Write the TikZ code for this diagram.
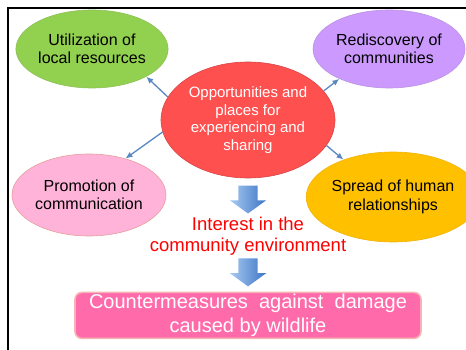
\documentclass[tikz,border=0pt]{standalone}
\usepackage{fontspec}
\setmainfont{Liberation Sans}
\usetikzlibrary{arrows.meta,positioning,shapes.geometric,shapes.arrows}

\definecolor{leafgreen}{HTML}{92D050}
\definecolor{lilac}{HTML}{CC99FF}
\definecolor{rosepink}{HTML}{FFB3D9}
\definecolor{amber}{HTML}{FFC000}
\definecolor{coral}{HTML}{FF5050}
\definecolor{linkblue}{HTML}{5B87C2}
\definecolor{boxpink}{HTML}{FF6AAA}
\definecolor{glow}{HTML}{F6B4B4}
\definecolor{skytop}{HTML}{A9CBF2}
\definecolor{skybottom}{HTML}{3C74C6}

\begin{document}
\begin{tikzpicture}[x=1pt, y=-1pt, node distance=5pt, every node/.style={align=center},
  bubble/.style={ellipse, inner sep=0pt, line width=0.6pt, font=\fontsize{16}{18.5}\selectfont},
  arr/.style={-{Latex[length=7pt,width=6pt]}, line width=1.3pt, draw=linkblue},
  downarrow/.style={single arrow, rotate=-90, inner xsep=0pt, inner ysep=9.5pt, minimum height=28pt,
    minimum width=36pt, single arrow head extend=8.5pt, single arrow tip angle=108,
    left color=skytop, right color=skybottom, draw=none}]
\useasboundingbox (0,0) rectangle (466,350);
% frame of the slide
\draw[line width=1.4pt] (8,350) |- (466,8);

% hub and the four outcomes
\node[bubble, fill=coral, draw=coral!85!black, minimum width=174pt, minimum height=116pt,
  text=white, font=\fontsize{15}{17.5}\selectfont] (hub) at (248,120)
  {Opportunities and\\ places for\\ experiencing and\\ sharing};
\node[bubble, fill=leafgreen, draw=leafgreen!80!gray, minimum width=150pt, minimum height=78pt] (local) at (92,49)
  {Utilization of\\ local resources};
\node[bubble, fill=lilac, draw=lilac!75!gray, minimum width=152pt, minimum height=78pt] (redisc) at (389,49)
  {Rediscovery of\\ communities};
\node[bubble, fill=rosepink, draw=rosepink!60!brown, minimum width=154pt, minimum height=82pt] (promo) at (89,195)
  {Promotion of\\ communication};
\node[bubble, fill=amber, draw=amber!80!brown, minimum width=148pt, minimum height=90pt] (spread) at (393,197)
  {Spread of human\\ relationships};

\draw[arr] (hub.164) -- (local.-27);
\draw[arr] (hub.188) -- (promo.45);
\draw[arr] (hub.21) -- (redisc.211);
\draw[arr] (hub.342) -- (spread.143);

% chain down to the goal
\node[downarrow, below=7pt of hub, anchor=west] (down1) {};
\node[below=2.8pt of down1.east, anchor=north, inner sep=0pt, text=red,
  font=\fontsize{18.5}{21}\selectfont] (interest) {Interest in the\\ community environment};
\node[downarrow, below=3pt of interest, anchor=west] (down2) {};
\node[below=5pt of down2.east, anchor=north, rounded corners=7pt, fill=boxpink, draw=glow,
  line width=1.6pt, minimum width=346pt, minimum height=46pt, inner sep=0pt, text=white,
  font=\fontsize{20}{24}\selectfont] (goal) {Countermeasures \ against \ damage\\ caused by wildlife};
\end{tikzpicture}
\end{document}
